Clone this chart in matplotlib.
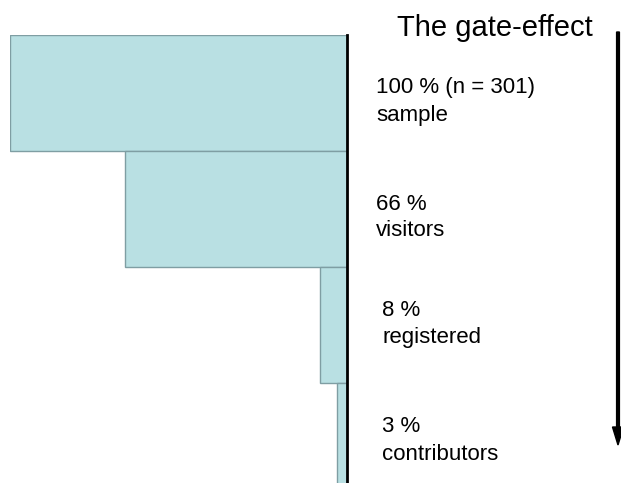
import matplotlib.pyplot as plt
from matplotlib.patches import FancyArrow

plt.rcParams["font.family"] = ["Liberation Sans", "DejaVu Sans"]

stages = ["sample", "visitors", "registered", "contributors"]
shares = [100, 66, 8, 3]
share_labels = ["100 % (n = 301)", "66 %", "8 %", "3 %"]

W, H = 621, 483
fig = plt.figure(figsize=(W / 100, H / 100), dpi=100)

# axes spans from x=10 to the black line at x=347, y=35 to bottom
ax = fig.add_axes([10 / W, 0, 337 / W, 448 / H])
bar_px = 116
ax.barh(range(len(stages)), shares, height=1.0, color="#b9e0e3",
        edgecolor="#7f9ea3", linewidth=1.0)
ax.set_xlim(100, 0)
ax.set_ylim(-0.5 + 448 / bar_px, -0.5)
for side in ["top", "left", "bottom"]:
    ax.spines[side].set_visible(False)
ax.spines["right"].set_linewidth(2)
ax.spines["right"].set_color("black")
ax.set_xticks([])
ax.set_yticks([])

fig.text(495 / W, 1 - 36 / H, "The gate-effect", fontsize=21,
         ha="center", va="baseline")

# label positions in pixels (left x, baseline of first line, baseline of second)
label_x = [376, 376, 382, 382]
line1_y = [93, 210, 316, 432]
line2_y = [121, 236, 343, 460]
for x, y1, y2, pct, name in zip(label_x, line1_y, line2_y, share_labels, stages):
    fig.text(x / W, 1 - y1 / H, pct, fontsize=16, ha="left", va="baseline")
    fig.text(x / W, 1 - y2 / H, name, fontsize=16, ha="left", va="baseline")

fig.patches.append(FancyArrow(
    618 / W, 1 - 32 / H, 0, -(413 - 18) / H, width=2.8 / W,
    head_width=11 / W, head_length=18 / H, length_includes_head=False,
    color="black", transform=fig.transFigure, figure=fig))

fig.savefig("out.png", dpi=100)
